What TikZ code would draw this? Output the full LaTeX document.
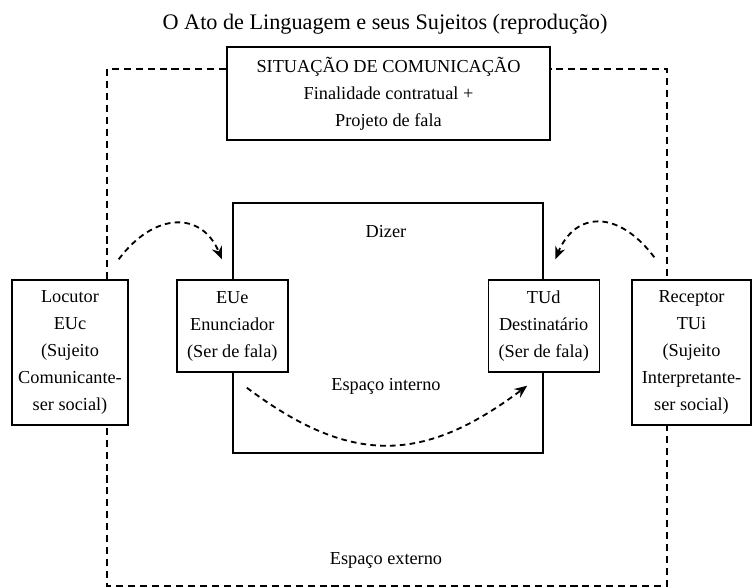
\documentclass[tikz,border=0pt]{standalone}
\usepackage{fontspec}
\setmainfont{Liberation Serif}
\usetikzlibrary{arrows.meta, positioning, calc}

\begin{document}
\begin{tikzpicture}[>=Stealth,
        box/.style={rectangle, draw=black, fill=white, line width=1pt, align=center, inner sep=0pt, font=\fontsize{13}{19.2}\selectfont},
        lbl/.style={font=\fontsize{13}{19.2}\selectfont},
        outer/.style={line width=1.3pt, dash pattern=on 5pt off 3.5pt},
        arrow/.style={-{Stealth[length=9pt, width=7.5pt]}, line width=1.3pt, dash pattern=on 4pt off 3pt}]
    \useasboundingbox (0,0) rectangle (18.825,14.7);

    \node[font=\fontsize{15.8}{18}\selectfont] (title) at (9.625,14.1) {O Ato de Linguagem e seus Sujeitos (reprodução)};
    \node[box, minimum width=8.075cm, minimum height=2.325cm] (sit) at (9.7125,12.3625) {SITUAÇÃO DE COMUNICAÇÃO\\ Finalidade contratual +\\ Projeto de fala};

    % espaco externo
    \coordinate (tl) at (2.675,12.975);
    \coordinate (br) at (16.675,0.06);
    \draw[outer] (sit.west |- tl) -- (tl) -- (tl |- br) -- (br) -- (br |- tl) -- (sit.east |- tl);

    % espaco interno
    \node[box, minimum width=7.75cm, minimum height=6.25cm] (dizer) at (9.7,6.5) {};
    \node[lbl] (dz) at (9.65,8.9) {Dizer};
    \node[lbl] (int) at (9.65,5.05) {Espaço interno};
    \node[lbl] (ext) at (9.65,0.7) {Espaço externo};

    \node[box, minimum width=2.9cm, minimum height=3.625cm] (loc) at (1.75,5.8875) {Locutor\\ EUc\\ (Sujeito\\ Comunicante-\\ ser social)};
    \node[box, minimum width=2.975cm, minimum height=3.625cm] (rec) at (17.2875,5.8875) {Receptor\\ TUi\\ (Sujeito\\ Interpretante-\\ ser social)};
    \node[box, anchor=north, minimum width=2.775cm, minimum height=2.3cm] (eue) at (dizer.west |- loc.north) {EUe\\ Enunciador\\ (Ser de fala)};
    \node[box, anchor=north, minimum width=2.775cm, minimum height=2.3cm] (tud) at (dizer.east |- rec.north) {TUd\\ Destinatário\\ (Ser de fala)};

    \draw[arrow] ([shift={(-0.25,0.5)}]loc.north east) .. controls +(0.9,1.2) and +(-0.5,1.2) .. ([shift={(-0.26,0.5)}]eue.north);
    \draw[arrow] ([shift={(0.575,0.55)}]rec.north west) .. controls +(-0.9,1.2) and +(0.5,1.2) .. ([shift={(0.29,0.5)}]tud.north);
    \draw[arrow] ([shift={(0.3625,-0.375)}]eue.south) .. controls +(2.6,-1.95) and +(-2.6,-1.95) .. ([shift={(-0.4125,-0.325)}]tud.south);
\end{tikzpicture}
\end{document}
